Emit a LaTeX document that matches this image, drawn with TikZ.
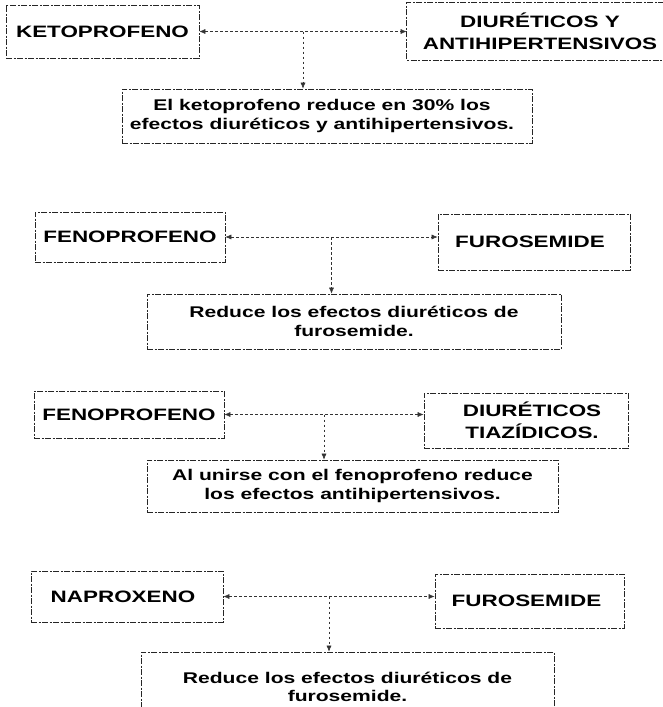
\documentclass[tikz,border=0pt]{standalone}
\usepackage{fontspec}
\setmainfont{Liberation Sans}[FakeStretch=1.36]
\usetikzlibrary{arrows.meta,calc}

\tikzset{
  x=1pt, y=-1pt,
  boxline/.style={draw=black!85, line width=0.7pt, dash pattern=on 6pt off 1.5pt on 2pt off 1.5pt},
  box/.style={boxline, inner sep=0pt, align=center, text=black},
  drug/.style={box, font=\fontsize{16.5}{22}\selectfont\bfseries},
  effect/.style={box, font=\fontsize{15.5}{18.5}\selectfont\bfseries},
  conn/.style={draw=black!80, line width=0.6pt, dash pattern=on 2.5pt off 2.5pt},
  tip/.style={-{Latex[length=6pt,width=5pt]}},
  tips/.style={{Latex[length=6pt,width=5pt]}-{Latex[length=6pt,width=5pt]}}
}

\begin{document}
\begin{tikzpicture}
\useasboundingbox[fill=white] (0,0) rectangle (662,707);

% --- ketoprofeno / diureticos y antihipertensivos
\node[drug, minimum width=193pt, minimum height=53pt] (keto) at (102.5,31.5) {KETOPROFENO};
% this box runs off the right margin: only its left, top and bottom sides show
\node[drug, draw=none, minimum width=266pt, minimum height=57pt] (diur) at (540,31.5) {DIURÉTICOS Y\\ANTIHIPERTENSIVOS};
\draw[boxline] (diur.north west -| 675,0) -- (diur.north west) -- (diur.south west) -- (diur.south west -| 675,0);
\node[effect, minimum width=410pt, minimum height=54pt] (eff1) at (327,116)
  {El ketoprofeno reduce en 30\% los\hspace*{10pt}\\efectos diuréticos y antihipertensivos.\hspace*{10pt}};
\draw[conn,tips] (keto.east) -- (keto.east -| diur.west);
\coordinate (j1) at ($(keto.east)!0.5!(keto.east -| diur.west)$);
\draw[conn,tip] (j1) -- (j1 |- eff1.north);

% --- fenoprofeno / furosemide
\node[drug, minimum width=190pt, minimum height=50pt] (feno1) at (130,237) {FENOPROFENO};
\node[drug, minimum width=192pt, minimum height=56pt] (furo1) at (534,242) {FUROSEMIDE\hspace*{8pt}};
\node[effect, minimum width=414pt, minimum height=55pt] (eff2) at (354,321.5) {Reduce los efectos diuréticos de\\furosemide.};
\draw[conn,tips] (feno1.east) -- (feno1.east -| furo1.west);
\coordinate (j2) at ($(feno1.east)!0.5!(feno1.east -| furo1.west)$);
\draw[conn,tip] (j2) -- (j2 |- eff2.north);

% --- fenoprofeno / diureticos tiazidicos
\node[drug, minimum width=190pt, minimum height=47pt] (feno2) at (129,414.5) {FENOPROFENO};
\node[drug, minimum width=204pt, minimum height=55pt] (tiaz) at (526,420.5) {\hspace*{12pt}DIURÉTICOS\\\hspace*{12pt}TIAZÍDICOS.};
\node[effect, minimum width=411pt, minimum height=52pt] (eff3) at (352.5,486) {Al unirse con el fenoprofeno reduce\\los efectos antihipertensivos.};
\draw[conn,tips] (feno2.east) -- (feno2.east -| tiaz.west);
\coordinate (j3) at ($(feno2.east)!0.5!(feno2.east -| tiaz.west)$);
\draw[conn,tip] (j3) -- (j3 |- eff3.north);

% --- naproxeno / furosemide
\node[drug, minimum width=192pt, minimum height=51pt] (napro) at (127,596.5) {NAPROXENO\hspace*{8pt}};
\node[drug, minimum width=189pt, minimum height=54pt] (furo2) at (529.5,601) {FUROSEMIDE\hspace*{6pt}};
\node[effect, minimum width=413pt, minimum height=70pt] (eff4) at (347.5,687) {Reduce los efectos diuréticos de\\furosemide.};
\draw[conn,tips] (napro.east) -- (napro.east -| furo2.west);
\coordinate (j4) at ($(napro.east)!0.5!(napro.east -| furo2.west)$);
\draw[conn,tip] (j4) -- (j4 |- eff4.north);
\end{tikzpicture}
\end{document}
